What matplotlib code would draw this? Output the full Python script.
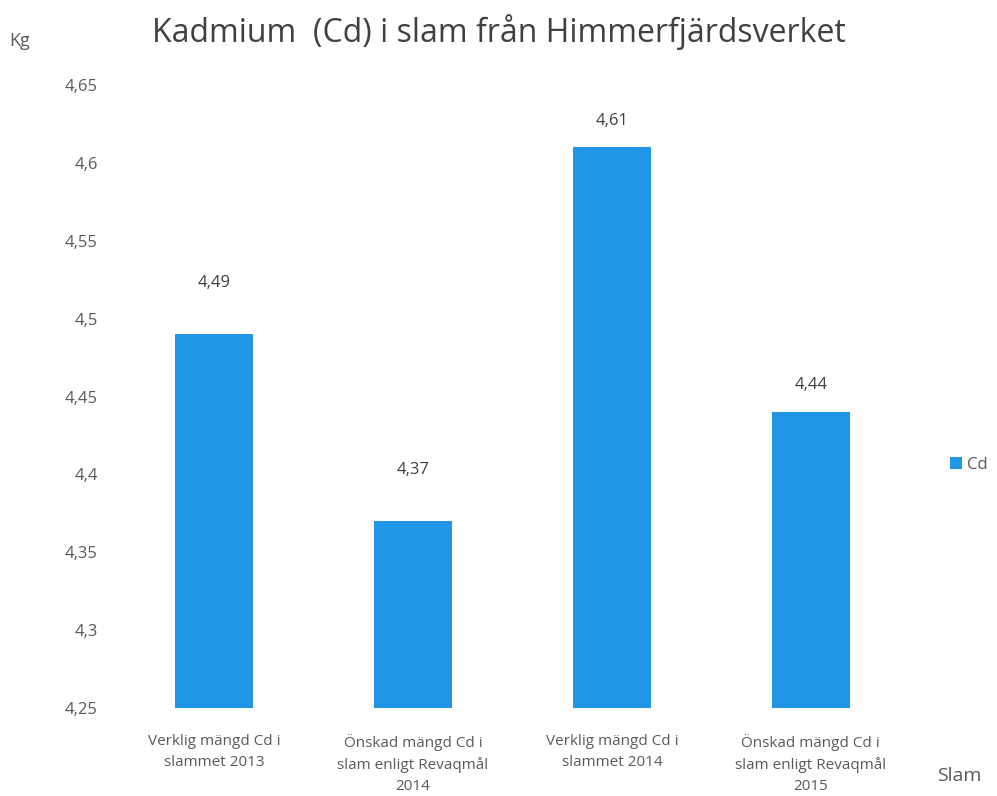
import matplotlib
matplotlib.use("Agg")
import matplotlib.pyplot as plt
import numpy as np

categories = ["Verklig mängd Cd i\nslammet 2013",
              "Önskad mängd Cd i\nslam enligt Revaqmål\n2014",
              "Verklig mängd Cd i\nslammet 2014",
              "Önskad mängd Cd i\nslam enligt Revaqmål\n2015"]
cd = [4.49, 4.37, 4.61, 4.44]
yticks = [4.25, 4.3, 4.35, 4.4, 4.45, 4.5, 4.55, 4.6, 4.65]

plt.rcParams['font.family'] = ['Open Sans', 'DejaVu Sans']
bar_color = '#1F96E6'
text_color = '#404040'

fig = plt.figure(figsize=(9.97, 7.96), dpi=100)
ax = fig.add_axes([0.115, 0.1106, 0.798, 0.7825])

x = np.arange(len(categories))
bars = ax.bar(x, cd, width=0.39, color=bar_color, label='Cd')

# labels sit at uneven heights in the original
label_pad = [0.028, 0.028, 0.012, 0.012]
for b, v, p in zip(bars, cd, label_pad):
    ax.text(b.get_x() + b.get_width() / 2, v + p, f"{v:.2f}".replace('.', ','),
            ha='center', va='bottom', fontsize=12, color=text_color)

ax.set_xlim(-0.5, 3.5)
ax.set_ylim(4.25, 4.65)
ax.set_yticks(yticks)
ax.set_yticklabels([f"{t:g}".replace('.', ',') for t in yticks], fontsize=12, color='#595959')
ax.set_xticks(x)
ax.set_xticklabels(categories, fontsize=11, color='#595959', linespacing=1.5)
ax.tick_params(length=0, pad=12)
ax.tick_params(axis='x', pad=19)
for s in ax.spines.values():
    s.set_visible(False)

fig.text(0.5, 0.96, "Kadmium  (Cd) i slam från Himmerfjärdsverket", ha='center', va='center',
         fontsize=23, color=text_color)
fig.text(0.02, 0.948, "Kg", ha='center', va='center', fontsize=13, color='#595959')
fig.text(0.962, 0.025, "Slam", ha='center', va='center', fontsize=14, color='#595959')

ax.legend(loc='center left', bbox_to_anchor=(1.05, 0.39), frameon=False, fontsize=12,
          borderaxespad=0, borderpad=0,
          handlelength=0.7, handleheight=0.7, handletextpad=0.3, labelcolor='#595959')

fig.savefig("out.png", dpi=100)
